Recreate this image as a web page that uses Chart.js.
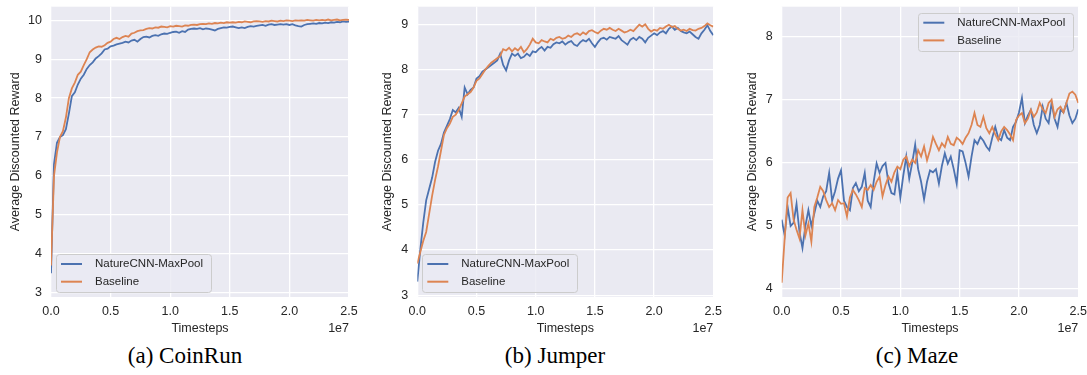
<!DOCTYPE html>
<html>
<head>
<meta charset="utf-8">
<script src="https://cdn.jsdelivr.net/npm/chart.js@4.4.0/dist/chart.umd.min.js"></script>
<style>
  body { margin: 0; background: #fff; width: 1087px; height: 375px; position: relative; overflow: hidden; }
  canvas { position: absolute; top: 0; }
  .cap { position: absolute; top: 343px; font-family: "Liberation Serif", "Times New Roman", serif; font-size: 23px; line-height: 26px; color: #000; transform: translateX(-50%); white-space: nowrap; }
</style>
</head>
<body>
<canvas id="c1" width="362" height="340" style="left:0px"></canvas>
<canvas id="c2" width="362" height="340" style="left:362px"></canvas>
<canvas id="c3" width="363" height="340" style="left:724px"></canvas>
<div class="cap" id="cap1" style="left:185px"></div>
<div class="cap" id="cap2" style="left:555px"></div>
<div class="cap" id="cap3" style="left:917px"></div>
<script>
// timesteps in millions
const steps = [
  0, 0.25, 0.5, 0.75, 1, 1.25, 1.5, 1.75, 2, 2.25,
  2.5, 2.75, 3, 3.25, 3.5, 3.75, 4, 4.25, 4.5, 4.75,
  5, 5.25, 5.5, 5.75, 6, 6.25, 6.5, 6.75, 7, 7.25,
  7.5, 7.75, 8, 8.25, 8.5, 8.75, 9, 9.25, 9.5, 9.75,
  10, 10.25, 10.5, 10.75, 11, 11.25, 11.5, 11.75, 12, 12.25,
  12.5, 12.75, 13, 13.25, 13.5, 13.75, 14, 14.25, 14.5, 14.75,
  15, 15.25, 15.5, 15.75, 16, 16.25, 16.5, 16.75, 17, 17.25,
  17.5, 17.75, 18, 18.25, 18.5, 18.75, 19, 19.25, 19.5, 19.75,
  20, 20.25, 20.5, 20.75, 21, 21.25, 21.5, 21.75, 22, 22.25,
  22.5, 22.75, 23, 23.25, 23.5, 23.75, 24, 24.25, 24.5, 24.75,
  25
];

const seriesNames = ['NatureCNN-MaxPool', 'Baseline'];
const captions = ['(a) CoinRun', '(b) Jumper', '(c) Maze'];

const coinrunCnn = [
  3.5, 6.3, 6.85, 7.0, 7.05, 7.2, 7.6, 8.05, 8.15, 8.35,
  8.5, 8.6, 8.75, 8.85, 8.92, 9.02, 9.08, 9.15, 9.25, 9.27,
  9.33, 9.35, 9.38, 9.4, 9.42, 9.45, 9.43, 9.48, 9.5, 9.45,
  9.52, 9.57, 9.58, 9.56, 9.6, 9.62, 9.6, 9.64, 9.66, 9.65,
  9.68, 9.7, 9.71, 9.68, 9.72, 9.7, 9.76, 9.78, 9.79, 9.78,
  9.8, 9.77, 9.79, 9.78, 9.76, 9.74, 9.78, 9.8, 9.82, 9.81,
  9.83, 9.84, 9.82, 9.8, 9.82, 9.8, 9.83, 9.85, 9.84, 9.86,
  9.87, 9.88, 9.86, 9.89, 9.9, 9.88, 9.89, 9.9, 9.89, 9.9,
  9.88, 9.9, 9.87, 9.85, 9.84, 9.88, 9.9, 9.91, 9.92, 9.91,
  9.93, 9.92, 9.94, 9.93, 9.95, 9.94, 9.96, 9.95, 9.97, 9.96,
  9.97
];
const coinrunBase = [
  3.7, 6.0, 6.6, 7.0, 7.15, 7.5, 8.0, 8.25, 8.4, 8.6,
  8.68, 8.85, 9.0, 9.18, 9.25, 9.3, 9.33, 9.32, 9.36, 9.42,
  9.45, 9.52, 9.55, 9.52, 9.57, 9.6, 9.58, 9.66, 9.68, 9.72,
  9.74, 9.75, 9.78, 9.8, 9.79, 9.82, 9.81, 9.84, 9.83, 9.82,
  9.85, 9.84, 9.86, 9.85, 9.84, 9.87, 9.86, 9.88, 9.89, 9.88,
  9.9, 9.91, 9.9, 9.92, 9.91, 9.93, 9.92, 9.94, 9.93, 9.95,
  9.94, 9.95, 9.94, 9.96, 9.95, 9.97, 9.96, 9.95, 9.97, 9.98,
  9.97, 9.96, 9.98, 9.97, 9.99, 9.98, 9.97, 9.99, 9.98, 10.0,
  9.99, 9.98, 10.0, 9.99, 10.0, 9.99, 10.01, 10.0, 9.99, 10.01,
  10.0, 10.01, 10.0, 10.02, 10.0, 10.01, 10.02, 10.0, 10.01, 10.02,
  10.01
];

const jumperCnn = [
  3.3, 4.0, 4.6, 5.1, 5.35, 5.6, 5.95, 6.2, 6.35, 6.6,
  6.75, 6.9, 7.1, 7.05, 7.15, 6.95, 7.6, 7.45, 7.55, 7.6,
  7.8, 7.85, 7.95, 8.0, 8.05, 8.1, 8.15, 8.2, 8.35, 8.1,
  7.98, 8.2, 8.35, 8.3, 8.35, 8.25, 8.28, 8.35, 8.3, 8.4,
  8.38, 8.45, 8.5, 8.42, 8.5, 8.48, 8.56, 8.6, 8.58, 8.62,
  8.55, 8.6, 8.63, 8.55, 8.52, 8.6, 8.65, 8.62, 8.68, 8.58,
  8.5, 8.6, 8.68, 8.7, 8.66, 8.72, 8.7, 8.68, 8.74, 8.65,
  8.6, 8.55, 8.66, 8.7, 8.65, 8.72, 8.68, 8.6, 8.7, 8.75,
  8.8, 8.76, 8.82, 8.85, 8.8, 8.9, 8.95, 8.88, 8.92, 8.85,
  8.82, 8.8, 8.84, 8.78, 8.72, 8.68, 8.8, 8.88, 8.98, 8.85,
  8.76
];
const jumperBase = [
  3.7, 3.95, 4.2, 4.4, 4.8, 5.2, 5.55, 5.85, 6.2, 6.55,
  6.7, 6.8, 6.95, 7.0, 7.1, 7.25, 7.4, 7.45, 7.5, 7.6,
  7.75, 7.8, 7.9, 8.0, 8.08, 8.15, 8.2, 8.25, 8.3, 8.45,
  8.42, 8.48, 8.4, 8.47, 8.42, 8.5, 8.38, 8.45, 8.55, 8.68,
  8.6, 8.58, 8.65, 8.62, 8.6, 8.68, 8.65, 8.7, 8.72, 8.68,
  8.7, 8.75, 8.72, 8.78, 8.8, 8.76, 8.82, 8.78, 8.85, 8.87,
  8.83, 8.8, 8.86, 8.9, 8.88, 8.92, 8.88, 8.85, 8.9, 8.86,
  8.82, 8.84, 8.88, 8.85, 8.92, 8.99, 8.95, 9.0, 8.9, 8.84,
  8.88, 8.86, 8.92, 8.9, 8.95, 8.99, 8.94, 8.96, 8.9, 8.86,
  8.88, 8.85, 8.9, 8.87, 8.86, 8.9, 8.92, 8.96, 9.02, 8.98,
  8.95
];

const mazeCnn = [
  5.1, 4.85, 5.3, 5.0, 5.05, 5.35, 4.9, 4.65, 5.0, 5.25,
  5.0, 5.2, 5.4, 5.3, 5.47, 5.55, 5.84, 5.4, 5.55, 5.75,
  5.88, 5.4, 5.3, 5.25, 5.6, 5.68, 5.55, 5.62, 5.84, 5.4,
  5.3, 5.7, 5.99, 5.84, 5.95, 6.0, 5.68, 5.52, 5.5, 5.84,
  5.45, 5.8, 6.1, 5.75, 6.0, 6.29, 5.9, 5.7, 5.42, 5.7,
  5.88, 5.85, 5.9, 5.67, 5.95, 6.15, 5.99, 6.1, 5.9, 5.67,
  6.2, 6.18, 6.0, 5.78, 6.1, 6.36, 6.3, 6.41, 6.35, 6.26,
  6.2, 6.4, 6.57, 6.4, 6.36, 6.52, 6.4, 6.36, 6.57, 6.65,
  6.8, 7.03, 6.63, 6.75, 6.84, 6.6, 6.47, 6.6, 6.89, 6.7,
  6.63, 6.95, 6.7, 6.57, 6.84, 6.8, 6.95, 6.75, 6.63, 6.7,
  6.85
];
const mazeBase = [
  4.1, 4.8, 5.45, 5.52, 5.1, 4.94, 4.8, 5.25, 4.85, 5.04,
  4.75, 5.3, 5.45, 5.62, 5.55, 5.41, 5.3, 5.36, 5.25, 5.41,
  5.35, 5.36, 5.15, 5.45, 5.57, 5.5, 5.41, 5.3, 5.6, 5.57,
  5.65, 5.57, 5.7, 5.78, 5.47, 5.65, 5.78, 5.7, 5.85, 5.94,
  5.9, 6.05, 6.1, 5.95, 6.05, 6.0, 6.2, 6.1, 6.26, 6.04,
  6.2, 6.41, 6.3, 6.2, 6.31, 6.25, 6.41, 6.3, 6.28, 6.4,
  6.36, 6.3, 6.4, 6.47, 6.6, 6.79, 6.6, 6.57, 6.73, 6.55,
  6.47, 6.57, 6.45, 6.36, 6.5, 6.57, 6.52, 6.45, 6.36, 6.68,
  6.75, 6.79, 6.63, 6.7, 6.84, 6.73, 6.8, 6.95, 6.85, 6.79,
  6.95, 7.0, 6.73, 6.85, 6.89, 6.8, 6.95, 7.1, 7.13, 7.08,
  6.95
];

const xTicks = [0, 5, 10, 15, 20, 25];
const xTickLabels = ['0.0', '0.5', '1.0', '1.5', '2.0', '2.5'];
const coinrunTicks = [3, 4, 5, 6, 7, 8, 9, 10];
const jumperTicks = [3, 4, 5, 6, 7, 8, 9];
const mazeTicks = [4, 5, 6, 7, 8];

const COLORS = ['#4c72b0', '#dd8452'];
const FONT = '"Liberation Sans", Arial, sans-serif';
const TEXT = '#262626';

Chart.defaults.font.family = FONT;
Chart.defaults.color = TEXT;

// background, inner legend and the 1e7 offset label
const decor = {
  id: 'decor',
  beforeDraw(chart) {
    const {ctx, chartArea: a} = chart;
    ctx.save();
    ctx.fillStyle = '#eaeaf2';
    ctx.fillRect(a.left, a.top, a.right - a.left, a.bottom - a.top);
    ctx.restore();
  },
  afterDatasetsDraw(chart, args, opts) {
    const {ctx, chartArea: a} = chart;
    const items = chart.data.datasets;
    ctx.save();
    ctx.font = '11.5px ' + FONT;
    const textW = Math.max(...items.map(d => ctx.measureText(d.label).width));
    const w = 39 + textW + 8, h = 38;
    const x = opts.where === 'upper right' ? a.right - 5 - w : a.left + 5;
    const y = opts.where === 'upper right' ? a.top + 6 : a.bottom - 5 - h;
    ctx.beginPath();
    ctx.roundRect(Math.round(x) + 0.5, Math.round(y) + 0.5, w, h, 3);
    ctx.fillStyle = 'rgba(234,234,242,0.8)';
    ctx.fill();
    ctx.strokeStyle = '#cccccc';
    ctx.lineWidth = 1;
    ctx.stroke();
    items.forEach((d, i) => {
      const ly = y + 10 + i * 17.7;
      ctx.strokeStyle = d.borderColor;
      ctx.lineWidth = 2;
      ctx.beginPath();
      ctx.moveTo(x + 5, ly);
      ctx.lineTo(x + 26, ly);
      ctx.stroke();
      ctx.fillStyle = TEXT;
      ctx.textBaseline = 'middle';
      ctx.fillText(d.label, x + 39, ly);
    });
    ctx.restore();
  },
  afterDraw(chart) {
    const {ctx, chartArea: a} = chart;
    ctx.save();
    ctx.font = '12.5px ' + FONT;
    ctx.fillStyle = TEXT;
    ctx.textAlign = 'right';
    ctx.textBaseline = 'middle';
    ctx.fillText('1e7', a.right, 329);
    ctx.restore();
  }
};

const panels = [
  {id: 'c1', cnn: coinrunCnn, base: coinrunBase, yTicks: coinrunTicks, yMin: 2.887, yMax: 10.35,
   yWidth: 51, titlePad: 8.3, padRight: 13, legend: 'lower left'},
  {id: 'c2', cnn: jumperCnn, base: jumperBase, yTicks: jumperTicks, yMin: 2.96, yMax: 9.39,
   yWidth: 55.3, titlePad: 18.5, padRight: 10.7, legend: 'lower left'},
  {id: 'c3', cnn: mazeCnn, base: mazeBase, yTicks: mazeTicks, yMin: 3.873, yMax: 8.476,
   yWidth: 57.7, titlePad: 21, padRight: 8.7, legend: 'upper right'}
];

function toPoints(vals) {
  return steps.map((s, i) => ({x: s, y: vals[i]}));
}

panels.forEach((p, k) => {
  document.getElementById('cap' + (k + 1)).textContent = captions[k];
  new Chart(document.getElementById(p.id), {
    type: 'line',
    data: {
      datasets: [
        {label: seriesNames[0], data: toPoints(p.cnn), borderColor: COLORS[0], order: 1},
        {label: seriesNames[1], data: toPoints(p.base), borderColor: COLORS[1], order: 0}
      ]
    },
    options: {
      responsive: false,
      animation: false,
      events: [],
      layout: {padding: {top: 6.7, right: p.padRight, bottom: 0, left: 0}},
      elements: {
        line: {borderWidth: 1.8, tension: 0, fill: false},
        point: {radius: 0}
      },
      plugins: {
        legend: {display: false},
        tooltip: {enabled: false},
        decor: {where: p.legend}
      },
      scales: {
        x: {
          type: 'linear',
          min: 0,
          max: 25,
          afterBuildTicks: s => { s.ticks = xTicks.map(v => ({value: v})); },
          afterFit: s => { s.height = 43; s.paddingLeft = 0; s.paddingRight = 0; },
          ticks: {
            padding: 8,
            font: {size: 12.5, lineHeight: 1},
            maxRotation: 0,
            callback: v => xTickLabels[xTicks.indexOf(v)]
          },
          grid: {color: '#ffffff', lineWidth: 1.3, drawTicks: false},
          border: {display: false},
          title: {display: true, text: 'Timesteps', font: {size: 12.5}, padding: {top: 0, bottom: 3.5}}
        },
        y: {
          min: p.yMin,
          max: p.yMax,
          afterBuildTicks: s => { s.ticks = p.yTicks.map(v => ({value: v})); },
          afterFit: s => { s.width = p.yWidth; s.paddingTop = 0; s.paddingBottom = 0; },
          ticks: {
            padding: 9,
            font: {size: 12.5, lineHeight: 1},
            callback: v => String(v)
          },
          grid: {color: '#ffffff', lineWidth: 1.3, drawTicks: false},
          border: {display: false},
          title: {display: true, text: 'Average Discounted Reward', font: {size: 12.5}, padding: {top: p.titlePad, bottom: 0}}
        }
      }
    },
    plugins: [decor]
  });
});
</script>
</body>
</html>
